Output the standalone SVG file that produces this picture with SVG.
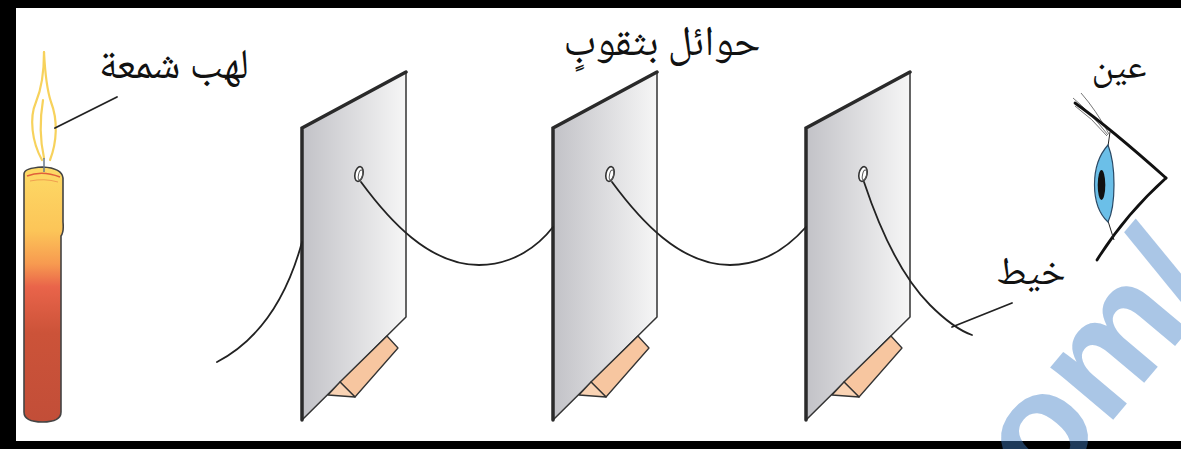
<svg xmlns="http://www.w3.org/2000/svg" width="1181" height="449" viewBox="0 0 1181 449">
<style>
.lbl{font-family:"Noto Naskh Arabic","DejaVu Sans",sans-serif;fill:#111;text-anchor:middle}
.str{fill:none;stroke:#222;stroke-width:1.8;stroke-linecap:round}
.lead{fill:none;stroke:#222;stroke-width:1.8;stroke-linecap:round}
.pface{fill:url(#pg);stroke:#333;stroke-width:1.5;stroke-linejoin:round}
.pthick{fill:none;stroke:#2a2a2a;stroke-width:3.5;stroke-linecap:round}
.foot{fill:#f7c6a0;stroke:#333;stroke-width:1.3;stroke-linejoin:round}
.foot2{fill:#f9d3b4;stroke:#333;stroke-width:1.3;stroke-linejoin:round}
.hole{fill:#fff;stroke:#333;stroke-width:1.6}
.flame{fill:none;stroke:#f7d25c;stroke-width:2.2;stroke-linecap:round}
</style>
<defs>
<linearGradient id="pg" x1="0" y1="0" x2="1" y2="0">
<stop offset="0" stop-color="#c2c2c7"/>
<stop offset="1" stop-color="#f6f6f6"/>
</linearGradient>
<linearGradient id="cg" x1="0" y1="0" x2="0" y2="1">
<stop offset="0" stop-color="#fdda66"/>
<stop offset="0.25" stop-color="#fcc558"/>
<stop offset="0.38" stop-color="#f79a50"/>
<stop offset="0.47" stop-color="#e9644a"/>
<stop offset="0.65" stop-color="#cc5339"/>
<stop offset="1" stop-color="#c24e38"/>
</linearGradient>
<g id="panelShape">
<path class="pface" d="M302,128 L406,72 L406,317 L302,420 Z"/>
<path class="pthick" d="M302,420 L302,128 L406,72"/>
<path class="foot" d="M387,336 L398,348 L355,397 L340,382 Z"/>
<path class="foot2" d="M340,382 L355,397 L328,395 Z"/>
<ellipse class="hole" cx="359" cy="174" rx="4" ry="7.5" transform="rotate(12 359 174)"/>
<ellipse fill="none" stroke="#555" stroke-width="1" cx="360.5" cy="175" rx="2" ry="5" transform="rotate(12 360.5 175)"/>
</g>
</defs>
<rect x="0" y="0" width="1181" height="449" fill="#fff"/>

<g id="candle">
<path class="flame" d="M42,160 C32,142 29,118 36,102 C41,90 44,72 44,52"/>
<path class="flame" d="M50,160 C57,142 58,120 51,102 C47,90 45,72 44,52"/>
<path class="flame" d="M44,158 C40,140 40,118 43,100" stroke-width="1.4"/>
<path d="M24,174 L24,412 Q24,422 42.5,422 Q61,422 61,412 L61,236 Q64,232 63,222 L63,178 Q62,168 42.5,167 Q24,168 24,174 Z" fill="url(#cg)" stroke="#444" stroke-width="1.6"/>
<path d="M27,176 Q42,170 60,177" fill="none" stroke="#e0603a" stroke-width="1.5"/>
<path d="M30,181 Q44,178 58,182" fill="none" stroke="#f0a050" stroke-width="1"/>
<line x1="44" y1="158" x2="44" y2="172" stroke="#6a7a8a" stroke-width="1.5"/>
</g>

<g id="panel1"><use href="#panelShape"/></g>
<g id="panel2"><use href="#panelShape" transform="translate(251,0)"/></g>
<g id="panel3"><use href="#panelShape" transform="translate(504,0)"/></g>

<g id="eye">
<path d="M1073,98 Q1090,112 1108,135 M1075,106 Q1092,118 1107,136 M1081,93 Q1096,110 1109,134" fill="none" stroke="#555" stroke-width="1" opacity="0.8"/>
<path d="M1075,103 Q1110,128 1166,178" fill="none" stroke="#111" stroke-width="2.8" stroke-linecap="round"/>
<path d="M1166,178 Q1125,215 1097,260" fill="none" stroke="#111" stroke-width="2.8" stroke-linecap="round"/>
<line x1="1108" y1="146" x2="1110" y2="132" stroke="#222" stroke-width="1"/>
<line x1="1108" y1="221" x2="1114" y2="240" stroke="#222" stroke-width="1"/>
<path d="M1108,145 C1090,165 1090,205 1108,222 C1116,205 1116,165 1108,145 Z" fill="#6bbfe8" stroke="#2a4a66" stroke-width="1.2"/>
<ellipse cx="1101.5" cy="185" rx="3.8" ry="15" fill="#111"/>
</g>

<g id="connectors">
<path class="str" d="M217,362 Q278,330 302,242"/>
<path class="str" d="M361,182 C389,220 429,265 479,265 C514,265 539,245 553,227"/>
<path class="str" d="M612,182 C640,220 680,265 730,265 C765,265 790,245 806,227"/>
<path class="str" d="M864,182 C880,230 900,275 930,305 C945,320 958,330 972,335"/>
<line class="lead" x1="55" y1="128" x2="117" y2="97"/>
<line class="lead" x1="952" y1="327" x2="1012" y2="303"/>
</g>

<g id="labels">
<text class="lbl" x="174" y="78" font-size="42">لهب شمعة</text>
<text class="lbl" x="662" y="55" font-size="42">حوائل بثقوبٍ</text>
<text class="lbl" x="1119" y="78" font-size="38">عين</text>
<text class="lbl" x="1031" y="284" font-size="39">خيط</text>
</g>

<g id="border" fill="#000">
<rect x="0" y="0" width="1181" height="8"/>
<rect x="0" y="0" width="16" height="449"/>
<rect x="0" y="441" width="1181" height="8"/>
</g>

<g id="watermark" transform="translate(1044,437) rotate(-50)">
<text x="-134" y="42" font-family="'Liberation Sans',Arial,sans-serif" font-weight="bold" font-size="155" fill="#4381c8" fill-opacity="0.45">com/</text>
</g>
</svg>
